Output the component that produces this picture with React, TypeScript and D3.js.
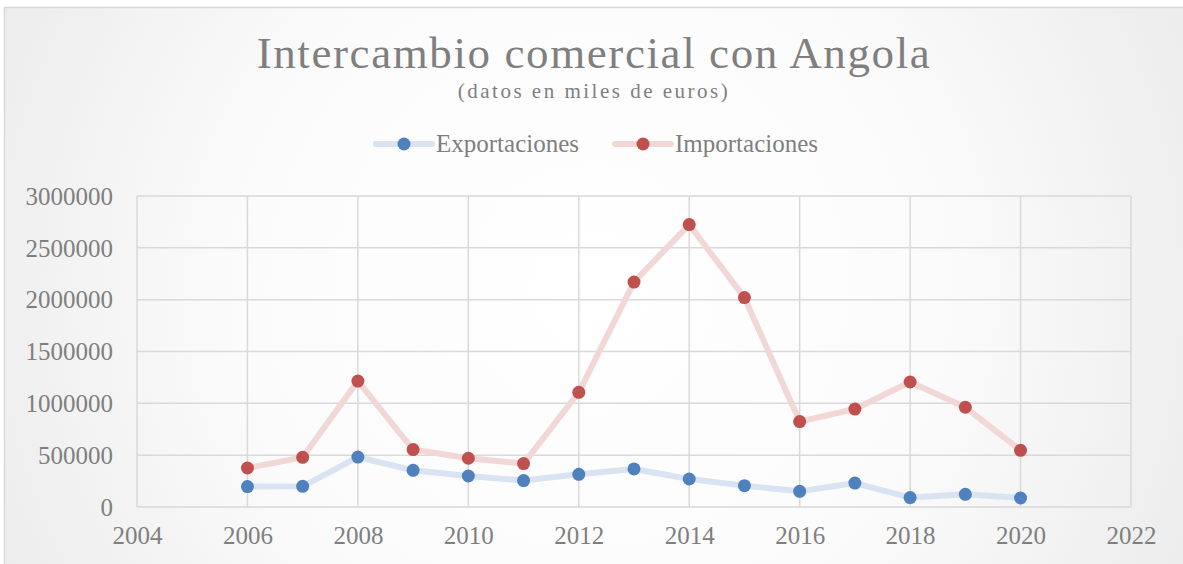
import * as d3 from "d3";
import { useEffect, useRef } from "react";

const width = 1183;
const height = 564;
const marginLeft = 137;
const marginRight = 52;
const marginTop = 196;
const marginBottom = 57;

const years = [2006, 2007, 2008, 2009, 2010, 2011, 2012, 2013, 2014, 2015, 2016, 2017, 2018, 2019, 2020];
const exportaciones = [197000, 199000, 482000, 354000, 299000, 255000, 315000, 367000, 270000, 206000, 151000, 231000, 91000, 122000, 87000];
const importaciones = [376000, 479000, 1215000, 554000, 470000, 419000, 1106000, 2170000, 2724000, 2020000, 824000, 945000, 1206000, 962000, 547000];
const xTicks = [2004, 2006, 2008, 2010, 2012, 2014, 2016, 2018, 2020, 2022];
const yTicks = [0, 500000, 1000000, 1500000, 2000000, 2500000, 3000000];

const font = "'Liberation Serif', 'Times New Roman', serif";
const textColor = "#7f7f7f";
const gridColor = "#d9d9d9";

const series = [
    { name: "Exportaciones", values: exportaciones, line: "#dae3f1", dot: "#4f81bd" },
    { name: "Importaciones", values: importaciones, line: "#f1d8d7", dot: "#c0504d" },
];

const App = () => {
    const gx = useRef<any>(null);
    const gy = useRef<any>(null);

    const x = d3.scaleLinear([2004, 2022], [marginLeft, width - marginRight]);
    const y = d3.scaleLinear([0, 3000000], [height - marginBottom, marginTop]);
    const line = d3.line<number>((d, i) => x(years[i]), y);

    useEffect(() => {
        const ax = d3.select(gx.current)
            .call(d3.axisBottom(x).tickValues(xTicks).tickFormat(d3.format("d")).tickSize(0).tickPadding(0));
        ax.select(".domain").remove();
        ax.selectAll("text")
            .attr("dy", null)
            .attr("y", 37)
            .attr("fill", textColor)
            .attr("font-family", font)
            .attr("font-size", 25);
        const ay = d3.select(gy.current)
            .call(d3.axisLeft(y).tickValues(yTicks).tickFormat(d3.format("d")).tickSize(0).tickPadding(0));
        ay.select(".domain").remove();
        ay.selectAll("text")
            .attr("x", -24)
            .attr("dy", "0.33em")
            .attr("fill", textColor)
            .attr("font-family", font)
            .attr("font-size", 25);
    }, [gx, gy]);

    return (
        <svg width={width} height={height} style={{ position: "absolute", left: 0, top: 0 }}>
            <defs>
                <radialGradient id="bg" cx="590" cy="290" r="640" gradientUnits="userSpaceOnUse">
                    <stop offset="0" stopColor="#ffffff" />
                    <stop offset="0.55" stopColor="#fbfbfb" />
                    <stop offset="1" stopColor="#ededed" />
                </radialGradient>
            </defs>
            <rect width={width} height={height} fill="#ffffff" />
            <rect x={4.5} y={7.5} width={width + 10} height={height + 10} fill="url(#bg)" stroke="#d9d9d9" strokeWidth={1.5} />

            <text x={594} y={68} textAnchor="middle" fontFamily={font} fontSize={45} letterSpacing={1.6} fill={textColor}>
                Intercambio comercial con Angola
            </text>
            <text x={594} y={98} textAnchor="middle" fontFamily={font} fontSize={21} letterSpacing={2.5} fill={textColor}>
                (datos en miles de euros)
            </text>

            <g>
                {yTicks.map(t => (
                    <line key={t} x1={marginLeft} x2={width - marginRight} y1={y(t)} y2={y(t)} stroke={gridColor} strokeWidth={1.5} />
                ))}
                {xTicks.map(t => (
                    <line key={t} x1={x(t)} x2={x(t)} y1={marginTop} y2={height - marginBottom} stroke={gridColor} strokeWidth={1.5} />
                ))}
            </g>
            <g ref={gx} transform={`translate(0,${height - marginBottom})`} />
            <g ref={gy} transform={`translate(${marginLeft},0)`} />

            {series.map(s => (
                <g key={s.name}>
                    <path fill="none" stroke={s.line} strokeWidth={6} strokeLinejoin="round" strokeLinecap="round" d={line(s.values) as string} />
                    {s.values.map((v, i) => (
                        <circle key={i} cx={x(years[i])} cy={y(v)} r={6.5} fill={s.dot} />
                    ))}
                </g>
            ))}

            {series.map((s, i) => {
                const lx = i === 0 ? 376 : 615;
                return (
                    <g key={s.name} transform={`translate(${lx},144)`}>
                        <line x1={0} x2={56} y1={0} y2={0} stroke={s.line} strokeWidth={6} strokeLinecap="round" />
                        <circle cx={28} cy={0} r={6.5} fill={s.dot} />
                        <text x={60} y={8} fontFamily={font} fontSize={25} fill={textColor}>{s.name}</text>
                    </g>
                );
            })}
        </svg>
    );
};

export default App;
